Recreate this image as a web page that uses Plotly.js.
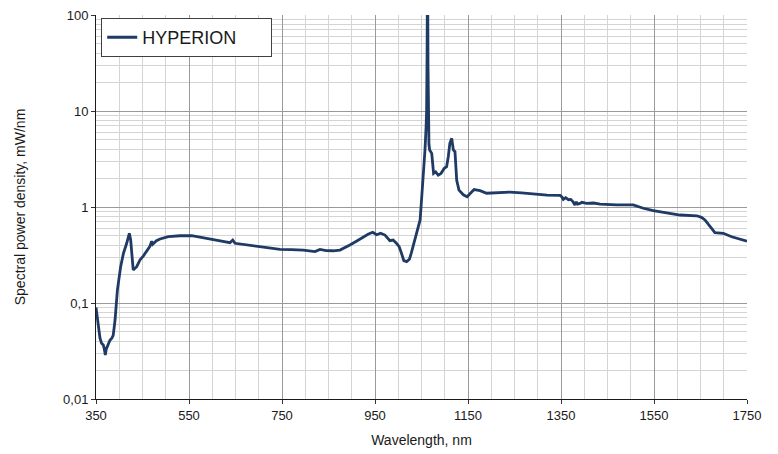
<!DOCTYPE html>
<html>
<head>
<meta charset="utf-8">
<script src="https://cdn.plot.ly/plotly-3.0.1.min.js"></script>
<style>
html,body{margin:0;padding:0;background:#fff;}
#chart{width:778px;height:454px;}
</style>
</head>
<body>
<div id="chart"></div>
<script>
// Wavelength (nm)
const wavelength = [350,355,358.6,362,365.7,368,370,372,374.3,377,380,384,387,391,396,403,409,416,421.7,424.6,430,437.5,444.6,452,459,466,469.8,472,480,487.6,505.5,530.6,555.8,575,595,620,638,644,649,670,695.6,720,745.7,770,795.8,821,831.7,845,860,874.7,885,896,910,924.8,935,945,953.6,962,971.5,982,989,996,1002,1007,1012,1018,1024,1028,1032,1037,1041,1045,1047,1049,1051,1053,1055.5,1057.5,1060,1061,1062,1063,1064,1064.6,1066,1067.5,1070,1072,1076,1080.5,1086,1092,1099,1104,1107.6,1111,1115,1118.5,1122,1125.7,1130.6,1136,1140,1148,1156,1163,1170,1176,1190,1215,1240,1265,1290,1320,1347.9,1352,1355,1360,1366,1371,1376,1380,1383,1386,1390.8,1395,1405,1420,1434,1470,1505.5,1527,1548.5,1577,1606,1642,1652,1659.6,1670,1681,1699,1717,1750];
// Spectral power density (mW/nm)
const hyperion = [0.09,0.055,0.043,0.038,0.0365,0.033,0.0287,0.033,0.035,0.037,0.041,0.043,0.046,0.0665,0.136,0.239,0.329,0.419,0.532,0.453,0.221,0.239,0.281,0.31,0.343,0.39,0.44,0.41,0.445,0.464,0.491,0.502,0.502,0.48,0.46,0.44,0.425,0.453,0.419,0.405,0.386,0.372,0.362,0.36,0.356,0.343,0.362,0.352,0.35,0.356,0.375,0.402,0.44,0.491,0.52,0.545,0.514,0.532,0.51,0.446,0.453,0.42,0.386,0.329,0.276,0.27,0.286,0.33,0.386,0.47,0.575,0.68,0.733,1.0,1.35,2.07,2.9,3.93,7,10.2,40,400,30,6.85,4.5,3.93,3.7,3.62,2.24,2.32,2.15,2.24,2.53,2.63,3.34,4.6,5.19,3.93,3.77,1.9,1.5,1.39,1.34,1.28,1.39,1.52,1.5,1.48,1.39,1.4,1.43,1.4,1.36,1.33,1.32,1.27,1.2,1.25,1.19,1.2,1.13,1.05,1.13,1.07,1.09,1.12,1.09,1.1,1.07,1.05,1.05,0.97,0.917,0.865,0.825,0.81,0.78,0.733,0.624,0.54,0.532,0.49,0.44];

const yTickVals = [0.01, 0.1, 1, 10, 100];
const yTickText = ['0,01', '0,1', '1', '10', '100'];
const xTickVals = [350, 550, 750, 950, 1150, 1350, 1550, 1750];

const font = 'Liberation Sans, Arial, sans-serif';

const trace = {
  x: wavelength,
  y: hyperion,
  type: 'scatter',
  mode: 'lines',
  name: 'HYPERION',
  line: {color: '#1f3a64', width: 2.8}
};

const layout = {
  width: 778,
  height: 454,
  margin: {l: 96, r: 31, t: 15, b: 55},
  paper_bgcolor: '#ffffff',
  plot_bgcolor: '#ffffff',
  font: {family: font, size: 13, color: '#1a1a1a'},
  showlegend: true,
  legend: {
    orientation: 'h',
    x: 0.008, y: 0.992, xanchor: 'left', yanchor: 'top',
    bgcolor: '#ffffff', bordercolor: '#404040', borderwidth: 1,
    font: {family: font, size: 18, color: '#1a1a1a'},
    entrywidth: 124, entrywidthmode: 'pixels', itemwidth: 30
  },
  xaxis: {
    type: 'linear',
    range: [350, 1750],
    tickvals: xTickVals,
    ticks: 'outside', ticklen: 4, tickcolor: '#333',
    showline: true, linecolor: '#1a1a1a', linewidth: 1,
    showgrid: true, gridcolor: '#9a9a9a', gridwidth: 1,
    minor: {dtick: 50, tick0: 350, showgrid: true, gridcolor: '#d4d4d4', gridwidth: 1, ticks: ''},
    zeroline: false,
    tickfont: {family: font, size: 13, color: '#1a1a1a'},
    title: {text: 'Wavelength, nm', font: {family: font, size: 14, color: '#1a1a1a'}, standoff: 13}
  },
  yaxis: {
    type: 'log',
    range: [-2, 2],
    tickvals: yTickVals,
    ticktext: yTickText,
    ticks: 'outside', ticklen: 4, tickcolor: '#333',
    showline: true, linecolor: '#1a1a1a', linewidth: 1,
    showgrid: true, gridcolor: '#9a9a9a', gridwidth: 1,
    minor: {dtick: 'D1', showgrid: true, gridcolor: '#d4d4d4', gridwidth: 1, ticks: ''},
    zeroline: false,
    tickfont: {family: font, size: 13, color: '#1a1a1a'},
    title: {text: 'Spectral power density, mW/nm', font: {family: font, size: 14, color: '#1a1a1a'}, standoff: 34}
  }
};

Plotly.newPlot('chart', [trace], layout, {displayModeBar: false, staticPlot: true});
</script>
</body>
</html>
